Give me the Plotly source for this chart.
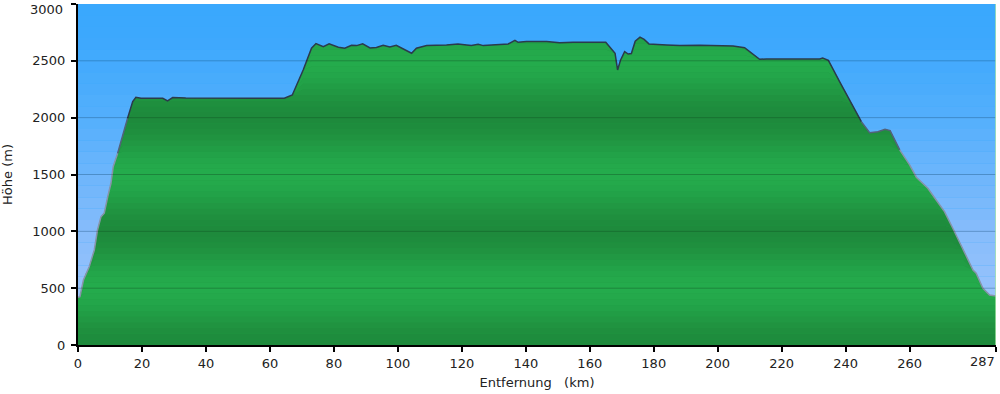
import numpy as np
import plotly.graph_objects as go

# ---- data ----
dist_km = [0, 0.6, 1.7, 2.5, 3.5, 5.1, 6.1, 7.2, 8.2, 9.3, 10.3, 11.0, 12.4, 14.0, 15.5, 17.1, 18.1,
           19.7, 26.5, 28.0, 29.6, 33.7, 64.5, 67.0, 70.4, 73.0, 74.4, 76.7, 78.5, 81.4, 83.4, 85.5,
           87.1, 89.0, 91.3, 93.3, 95.4, 97.5, 99.5, 101.7, 104.3, 105.8, 109.0, 115.2, 118.8, 121.5,
           123.0, 125.1, 126.7, 134.5, 136.6, 137.6, 140.2, 146.5, 150.6, 154.8, 165.0, 167.9, 168.7,
           169.6, 170.9, 172.0, 173.0, 174.2, 175.7, 177.0, 178.5, 184.0, 188.1, 194.4, 204.8, 208.4,
           213.1, 215.2, 231.9, 232.8, 234.6, 238.1, 241.8, 244.9, 247.5, 250.1, 252.3, 253.9, 256.9,
           260.0, 262.1, 265.7, 268.3, 270.9, 273.5, 276.7, 279.8, 280.8, 282.9, 285.0, 287.0]
elev_m = [420, 425, 572, 631, 689, 836, 1012, 1129, 1159, 1305, 1423, 1569, 1687, 1848, 1995, 2141, 2180,
          2171, 2171, 2147, 2177, 2173, 2171, 2200, 2420, 2611, 2652, 2625, 2649, 2620, 2611, 2637,
          2634, 2649, 2614, 2617, 2637, 2622, 2636, 2605, 2567, 2611, 2634, 2640, 2649, 2640,
          2634, 2646, 2634, 2649, 2681, 2663, 2669, 2669, 2660, 2663, 2663, 2567, 2420,
          2505, 2581, 2560, 2564, 2672, 2708, 2688, 2649, 2640, 2634, 2638, 2631, 2616,
          2514, 2516, 2516, 2524, 2504, 2317, 2127, 1965, 1868, 1877, 1898, 1886, 1716,
          1584, 1476, 1379, 1276, 1173, 1027, 836, 660, 631, 499, 440, 431]

x_tickvals = [0, 20, 40, 60, 80, 100, 120, 140, 160, 180, 200, 220, 240, 260, 287]
y_tickvals = [0, 500, 1000, 1500, 2000, 2500, 3000]
x_max = 287
y_max = 3000

x = np.array(dist_km, dtype=float)
e = np.array(elev_m, dtype=float)


def lerp_rgb(c1, c2, t):
    return "rgb(%d,%d,%d)" % tuple(round(a + (b - a) * t) for a, b in zip(c1, c2))


fig = go.Figure()

# ---- blue sky background bands ----
sky_levels = [0, 1000, 2000, 2700, 3000]
sky_cols = [(166, 200, 250), (134, 188, 251), (84, 175, 252), (60, 168, 253), (58, 168, 253)]
shapes = []
step = 100
for lo in range(0, y_max, step):
    mid = lo + step / 2
    col = tuple(np.interp(mid, sky_levels, [c[i] for c in sky_cols]) for i in range(3))
    shapes.append(dict(type="rect", xref="x domain", yref="y", x0=0, x1=1, y0=lo, y1=lo + step,
                       fillcolor="rgb(%d,%d,%d)" % tuple(round(v) for v in col),
                       line=dict(width=0), layer="below"))

# ---- green banded fill under the profile ----
dark = (30, 138, 60)
light = (36, 171, 76)
fig.add_trace(go.Scatter(x=x, y=e, mode="lines", line=dict(width=0), fill="tozeroy",
                         fillcolor="rgb(33,155,68)", hoverinfo="skip", showlegend=False))
fig.add_trace(go.Scatter(x=x, y=np.zeros_like(e), mode="lines", line=dict(width=0),
                         hoverinfo="skip", showlegend=False))
gstep = 50
for hi in range(gstep, y_max + gstep, gstep):
    mid = hi - gstep / 2
    t = (1 - np.cos(2 * np.pi * mid / 1000)) / 2
    fig.add_trace(go.Scatter(x=x, y=np.minimum(e, hi), mode="lines", line=dict(width=0),
                             fill="tonexty", fillcolor=lerp_rgb(dark, light, t),
                             hoverinfo="skip", showlegend=False))

# ---- profile outline (colour shifts with height) ----
def line_color(h):
    if h >= 1950:
        return "#2b3a4c"
    if h >= 1700:
        return "#53627a"
    return "#8794aa"

segs = {}
for i in range(len(x) - 1):
    c = line_color((e[i] + e[i + 1]) / 2)
    xs, ys = segs.setdefault(c, ([], []))
    if xs and xs[-1] == x[i] and ys[-1] == e[i]:
        xs.append(x[i + 1]); ys.append(e[i + 1])
    else:
        if xs:
            xs.append(None); ys.append(None)
        xs.extend([x[i], x[i + 1]]); ys.extend([e[i], e[i + 1]])
for c, (xs, ys) in segs.items():
    fig.add_trace(go.Scatter(x=xs, y=ys, mode="lines", line=dict(color=c, width=1.5),
                             hoverinfo="skip", showlegend=False))

# ---- grid lines above the fill ----
for v in y_tickvals[1:-1]:
    shapes.append(dict(type="line", xref="x domain", yref="y", x0=0, x1=1, y0=v, y1=v,
                       line=dict(color="rgba(0,0,0,0.2)", width=1), layer="above"))
shapes.append(dict(type="line", xref="x", yref="y domain", x0=x_max, x1=x_max, y0=0, y1=1,
                   line=dict(color="#a8e6a8", width=1.5), layer="above"))

font = dict(family="DejaVu Sans, Verdana, sans-serif", size=13, color="#222222")

# edge tick labels placed as annotations so they stay inside the canvas
x_ticktext = [str(v) for v in x_tickvals[:-1]] + [""]
y_ticktext = [str(v) for v in y_tickvals[:-1]] + [""]
annotations = [
    dict(x=x_tickvals[-1], y=0, xref="x", yref="paper", text=str(x_tickvals[-1]),
         showarrow=False, xanchor="right", yanchor="top", yshift=-7, xshift=1, font=font),
    dict(x=0, y=y_tickvals[-1], xref="paper", yref="y", text=str(y_tickvals[-1]),
         showarrow=False, xanchor="right", yanchor="top", xshift=-13, yshift=4, font=font),
]

fig.update_layout(
    width=1000, height=394,
    margin=dict(l=78, r=4, t=4, b=49),
    paper_bgcolor="white", plot_bgcolor="rgb(58,168,253)",
    shapes=shapes, annotations=annotations, font=font, showlegend=False,
    hovermode=False,
    xaxis=dict(range=[0, x_max], tickvals=x_tickvals, ticktext=x_ticktext,
               showgrid=False, zeroline=False, showline=True, linecolor="black", linewidth=2,
               ticks="outside", ticklen=5, tickwidth=2, tickcolor="black",
               automargin=False, ticklabeloverflow="allow",
               title=dict(text="Entfernung\u00a0\u00a0\u00a0(km)", standoff=8, font=font)),
    yaxis=dict(range=[0, y_max], tickvals=y_tickvals, ticktext=y_ticktext,
               showgrid=False, zeroline=False,
               showline=True, linecolor="black", linewidth=2,
               ticks="outside", ticklen=5, tickwidth=2, tickcolor="black",
               automargin=False, ticklabeloverflow="allow", ticklabelstandoff=3,
               title=dict(text="Höhe (m)", standoff=22, font=font)),
)

fig.write_html("out.html", config={"displayModeBar": False},
               post_script="document.body.style.margin='0';")
